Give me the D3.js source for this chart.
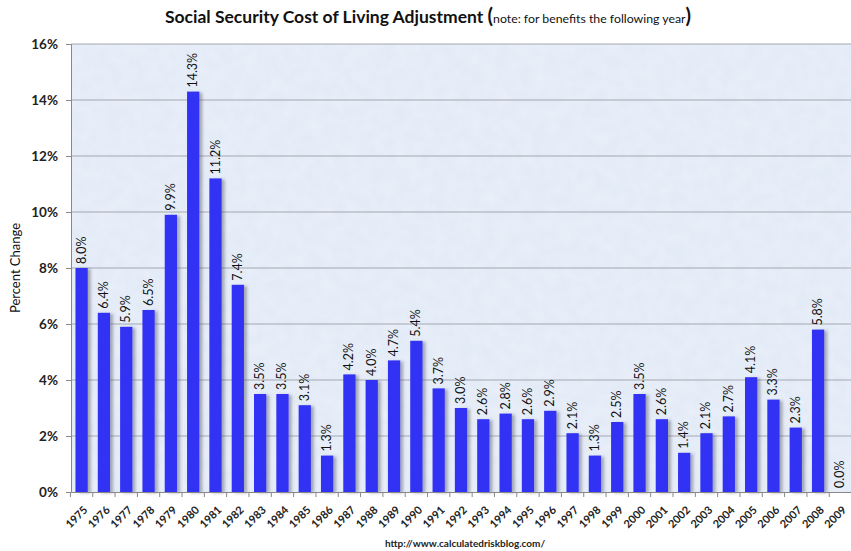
<!DOCTYPE html>
<html>
<head>
<meta charset="utf-8">
<script src="https://cdn.jsdelivr.net/npm/d3@7"></script>
<style>
  body { margin: 0; background: #fff; }
  text { font-family: Lato, "Open Sans", sans-serif; }
</style>
</head>
<body>
<div id="chart"></div>
<script>
// data
var years = ["1975","1976","1977","1978","1979","1980","1981","1982","1983","1984","1985","1986","1987","1988","1989","1990","1991","1992","1993","1994","1995","1996","1997","1998","1999","2000","2001","2002","2003","2004","2005","2006","2007","2008","2009"];
var cola = [8.0,6.4,5.9,6.5,9.9,14.3,11.2,7.4,3.5,3.5,3.1,1.3,4.2,4.0,4.7,5.4,3.7,3.0,2.6,2.8,2.6,2.9,2.1,1.3,2.5,3.5,2.6,1.4,2.1,2.7,4.1,3.3,2.3,5.8,0.0];
var yTicks = [0,2,4,6,8,10,12,14,16];

var svgWidth = 851;
var svgHeight = 551;
var margin = { top: 44, right: 0, bottom: 59, left: 71 };
var chartWidth = svgWidth - margin.left - margin.right;
var chartHeight = svgHeight - margin.top - margin.bottom;

var svg = d3.select("#chart")
  .append("svg")
  .attr("width", svgWidth)
  .attr("height", svgHeight);

var defs = svg.append("defs");
var shadow = defs.append("filter").attr("id", "shadow")
  .attr("x", "-30%").attr("y", "-10%").attr("width", "180%").attr("height", "130%");
shadow.append("feDropShadow")
  .attr("dx", 3).attr("dy", 1).attr("stdDeviation", 1.5)
  .attr("flood-color", "#556").attr("flood-opacity", 0.45);

// faint mottled texture for the plot area
var tex = defs.append("filter").attr("id", "texture");
tex.append("feTurbulence").attr("type", "fractalNoise").attr("baseFrequency", 0.08).attr("numOctaves", 2).attr("seed", 3);
tex.append("feColorMatrix").attr("type", "matrix")
  .attr("values", "0 0 0 0 1  0 0 0 0 1  0 0 0 0 1  0 0 0 0.35 -0.1");
tex.append("feComposite").attr("in2", "SourceGraphic").attr("operator", "in");

var chartGroup = svg.append("g")
  .attr("transform", `translate(${margin.left}, ${margin.top})`);

// scales
var x = d3.scaleBand().domain(years).range([0, chartWidth]).paddingInner(0.45).paddingOuter(0.2);
var y = d3.scaleLinear().domain([0, 16]).range([chartHeight, 0]);

// plot background
chartGroup.append("rect")
  .attr("width", chartWidth)
  .attr("height", chartHeight)
  .attr("fill", "#e3ebf7");
chartGroup.append("rect")
  .attr("width", chartWidth)
  .attr("height", chartHeight)
  .attr("fill", "#e3ebf7")
  .attr("filter", "url(#texture)");

// gridlines
chartGroup.selectAll(".grid")
  .data(yTicks.slice(1))
  .enter()
  .append("line")
  .attr("x1", 0).attr("x2", chartWidth)
  .attr("y1", d => y(d)).attr("y2", d => y(d))
  .attr("stroke", "#a4a8b0")
  .attr("stroke-width", 1);

// bars
chartGroup.selectAll(".bar")
  .data(cola)
  .enter()
  .append("rect")
  .attr("x", (d, i) => x(years[i]))
  .attr("y", d => y(d))
  .attr("width", x.bandwidth())
  .attr("height", d => chartHeight - y(d))
  .attr("fill", "#3333f5")
  .attr("filter", "url(#shadow)");

// bar labels
chartGroup.selectAll(".lbl")
  .data(cola)
  .enter()
  .append("text")
  .attr("transform", (d, i) => `translate(${x(years[i]) + x.bandwidth() / 2 + 4}, ${y(d) - 4}) rotate(-90)`)
  .attr("font-size", "12.5px")
  .attr("fill", "#111")
  .text(d => d.toFixed(1) + "%");

// y axis
var leftAxis = d3.axisLeft(y).tickValues(yTicks).tickFormat(d => d + "%").tickSize(5).tickPadding(8);
var yAxis = chartGroup.append("g").call(leftAxis);
yAxis.select(".domain").attr("stroke", "#888");
yAxis.selectAll(".tick line").attr("stroke", "#888");
yAxis.selectAll("text")
  .attr("font-size", "13.5px")
  .attr("font-weight", "bold")
  .attr("fill", "#222")
  .attr("font-family", "Lato, sans-serif");

// x axis
var bottomAxis = d3.axisBottom(x).tickSize(0).tickPadding(0);
var xAxis = chartGroup.append("g")
  .attr("transform", `translate(0, ${chartHeight})`)
  .call(bottomAxis);
xAxis.select(".domain").attr("stroke", "#888");
xAxis.selectAll("text")
  .attr("font-size", "11px")
  .attr("font-weight", "bold")
  .attr("fill", "#222")
  .attr("font-family", "Lato, sans-serif")
  .attr("text-anchor", "end")
  .attr("dy", "0.35em")
  .attr("y", 0)
  .attr("transform", "translate(4, 16) rotate(-45)");

// category separator ticks
chartGroup.selectAll(".sep")
  .data(years.concat(["end"]))
  .enter()
  .append("line")
  .attr("x1", (d, i) => i * x.step() - x.step() * x.paddingInner() / 2 + x.step() * x.paddingOuter())
  .attr("x2", (d, i) => i * x.step() - x.step() * x.paddingInner() / 2 + x.step() * x.paddingOuter())
  .attr("y1", chartHeight)
  .attr("y2", chartHeight + 5)
  .attr("stroke", "#888");

// y axis title
svg.append("text")
  .attr("transform", `translate(20, ${margin.top + chartHeight / 2}) rotate(-90)`)
  .attr("text-anchor", "middle")
  .attr("font-size", "13px")
  .attr("fill", "#111")
  .text("Percent Change");

// title
var title = svg.append("text")
  .attr("x", 428)
  .attr("y", 23)
  .attr("text-anchor", "middle")
  .attr("fill", "#111");
title.append("tspan").attr("font-size", "17.5px").attr("font-weight", "bold").text("Social Security Cost of Living Adjustment ");
title.append("tspan").attr("font-size", "20px").attr("font-weight", "bold").text("(");
title.append("tspan").attr("font-size", "12.3px").text("note: for benefits the following year");
title.append("tspan").attr("font-size", "20px").attr("font-weight", "bold").text(")");

// source
svg.append("text")
  .attr("x", 465)
  .attr("y", 547)
  .attr("text-anchor", "middle")
  .attr("font-size", "10px")
  .attr("font-weight", "bold")
  .attr("fill", "#222")
  .attr("font-family", "'DejaVu Sans Mono', monospace")
  .text("http://www.calculatedriskblog.com/");
</script>
</body>
</html>
